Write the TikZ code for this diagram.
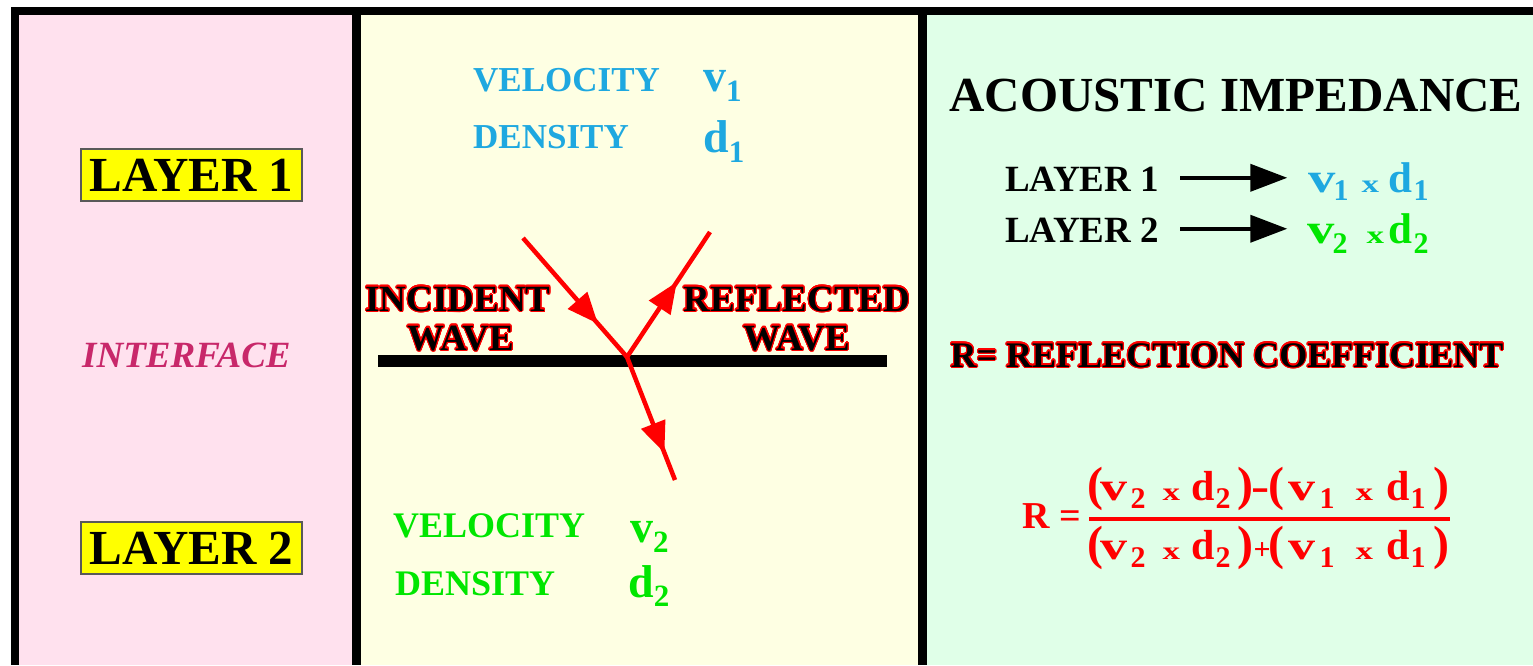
\documentclass[tikz,border=0pt]{standalone}
\usepackage{fontspec}
\setmainfont{Liberation Serif}
\usepackage{contour}
\contourlength{1.1pt}
\contournumber{24}
\usetikzlibrary{arrows.meta,decorations.markings}
\definecolor{pinkbg}{HTML}{FFE1EE}
\definecolor{yelbg}{HTML}{FEFFE3}
\definecolor{grnbg}{HTML}{E0FFE8}
\definecolor{bluet}{HTML}{1EA8E0}
\definecolor{grnt}{HTML}{00E600}
\definecolor{magt}{HTML}{C8286A}
\definecolor{boxyel}{HTML}{FFFF00}
\newcommand\fsz[1]{\fontsize{#1pt}{#1pt}\selectfont}
% letter with lowered subscript: size, letter, subsize, drop, digit
\newcommand\vsb[5]{{\fsz{#1}#2}\raisebox{-#4pt}{\fsz{#3}#5}}
% place content at horizontal offset (zero width)
\newcommand\at[2]{\rlap{\hspace{#1pt}#2}}
\newcommand\wv[2]{\scalebox{#1}[1]{\fsz{#2}v}}
\newcommand\wx[1]{\scalebox{1.4}[1]{\fsz{#1}x}}
\newcommand\dsub[2]{\raisebox{-#1pt}{\fsz{30}#2}}
\begin{document}
\begin{tikzpicture}[x=1pt,y=-1pt,
  every node/.style={inner sep=0pt, font=\bfseries},
  lbox/.style={fill=boxyel, draw=black!65, line width=1.2pt, minimum width=221pt, minimum height=52pt, font=\bfseries\fsz{49}},
  ray/.style={draw=red, line width=4.5pt, postaction={decorate}},
  bigarr/.style={line width=4pt, -{Triangle[length=37pt,width=27pt]}}]
\useasboundingbox (0,0) rectangle (1533,665);
% frame and panels
\fill[white] (0,0) rectangle (1533,665);
\fill[black] (11,7) rectangle (1533,665);
\fill[pinkbg] (19,15) rectangle (352,665);
\fill[yelbg] (361,15) rectangle (918,665);
\fill[grnbg] (927,15) rectangle (1533,665);

% left panel
\node[lbox] (L1) at (191.5,175) {LAYER 1};
\node[lbox] (L2) at (191.5,548) {LAYER 2};
\node[anchor=base west, text=magt, font=\bfseries\itshape\fsz{37}] (intf) at (82,367) {INTERFACE};

% middle panel
\node[anchor=base west, text=bluet, font=\bfseries\fsz{35}] (vel1) at (473,91) {VELOCITY};
\node[anchor=base west, text=bluet] (v1) at (703,91) {\vsb{46}{v}{31}{10}{1}};
\node[anchor=base west, text=bluet, font=\bfseries\fsz{35}] (den1) at (473,148) {DENSITY};
\node[anchor=base west, text=bluet] (d1) at (703,152) {\vsb{46}{d}{31}{10}{1}};

\node[anchor=base west, text=grnt, font=\bfseries\fsz{36}] (vel2) at (393,537) {VELOCITY};
\node[anchor=base west, text=grnt] (v2) at (630,542) {\vsb{46}{v}{31}{10}{2}};
\node[anchor=base west, text=grnt, font=\bfseries\fsz{36}] (den2) at (395,595) {DENSITY};
\node[anchor=base west, text=grnt] (d2) at (628,597) {\vsb{46}{d}{31}{9}{2}};

\draw[line width=11.5pt] (378,361) coordinate (ifl) -- (887,361) coordinate (ifr);

\coordinate (O) at (627,357);
\coordinate (inc) at (523,238);
\coordinate (refl) at (710,232);
\coordinate (tra) at (675,480);
\begin{scope}[decoration={markings, mark=at position 0.72 with {\arrow{Triangle[length=31pt,width=25pt]}}}]
\draw[ray] (inc) -- (O);
\end{scope}
\begin{scope}[decoration={markings, mark=at position 0.6 with {\arrow{Triangle[length=31pt,width=25pt]}}}]
\draw[ray] (O) -- (refl);
\end{scope}
\begin{scope}[decoration={markings, mark=at position 0.78 with {\arrow{Triangle[length=31pt,width=25pt]}}}]
\draw[ray] (O) -- (tra);
\end{scope}

\node[anchor=base, font=\bfseries\fsz{37}] (inc1) at (458,311) {\contour{red}{INCIDENT}};
\node[anchor=base, font=\bfseries\fsz{37}] (inc2) at (461,350) {\contour{red}{WAVE}};
\node[anchor=base, font=\bfseries\fsz{37}] (ref1) at (797,311) {\contour{red}{REFLECTED}};
\node[anchor=base, font=\bfseries\fsz{37}] (ref2) at (797,350) {\contour{red}{WAVE}};

% right panel
\node[anchor=base, font=\bfseries\fsz{49}] (title) at (1236,111) {ACOUSTIC IMPEDANCE};
\node[anchor=base west, font=\bfseries\fsz{37}] (r1) at (1005,191) {LAYER 1};
\node[anchor=base west, font=\bfseries\fsz{37}] (r2) at (1005,242) {LAYER 2};
\node[anchor=base west, text=bluet] (z1) at (1308,192) {%
  \at{0}{\wv{1.3}{42}}\at{25}{\dsub{8}{1}}\at{53}{\wx{25}}\at{80}{\fsz{43}d}\at{105}{\dsub{8}{1}}};
\node[anchor=base west, text=grnt] (z2) at (1307,243) {%
  \at{0}{\wv{1.3}{42}}\at{25}{\dsub{10}{2}}\at{59}{\wx{25}}\at{81}{\fsz{43}d}\at{106}{\dsub{10}{2}}};
\draw[bigarr] (r1.east) ++(21,-1) -- ++(107,0);
\draw[bigarr] (r2.east) ++(21,-1) -- ++(107,0);

\node[anchor=base, font=\bfseries\fsz{36}] (rc) at (1227,367) {\contour{red}{R= REFLECTION COEFFICIENT}};

% formula
\node[anchor=base west, text=red, font=\bfseries\fsz{38}] (Req) at (1022,528) {R =};
\node[anchor=base west, text=red] (num) at (1087,500) {%
  \at{0}{\fsz{48}(}\at{13}{\wv{1.35}{40}}\at{43}{\dsub{8}{2}}\at{75}{\wx{25}}\at{104}{\fsz{42}d}\at{128}{\dsub{8}{2}}\at{150}{\fsz{48})}%
  \at{164}{\scalebox{1.3}[1]{\fsz{42}-}}%
  \at{181}{\fsz{48}(}\at{201}{\wv{1.35}{40}}\at{232}{\dsub{8}{1}}\at{268}{\wx{25}}\at{299}{\fsz{42}d}\at{323}{\dsub{8}{1}}\at{346}{\fsz{48})}};
\node[anchor=base west, text=red] (den) at (1087,559) {%
  \at{0}{\fsz{48}(}\at{13}{\wv{1.35}{40}}\at{43}{\dsub{8}{2}}\at{75}{\wx{25}}\at{104}{\fsz{42}d}\at{128}{\dsub{8}{2}}\at{150}{\fsz{48})}%
  \at{166}{\fsz{30}+}%
  \at{181}{\fsz{48}(}\at{201}{\wv{1.35}{40}}\at{232}{\dsub{8}{1}}\at{268}{\wx{25}}\at{299}{\fsz{42}d}\at{323}{\dsub{8}{1}}\at{346}{\fsz{48})}};
\draw[red, line width=3.5pt] (1089,519) coordinate (barl) -- (1450,519) coordinate (barr);
\end{tikzpicture}
\end{document}
